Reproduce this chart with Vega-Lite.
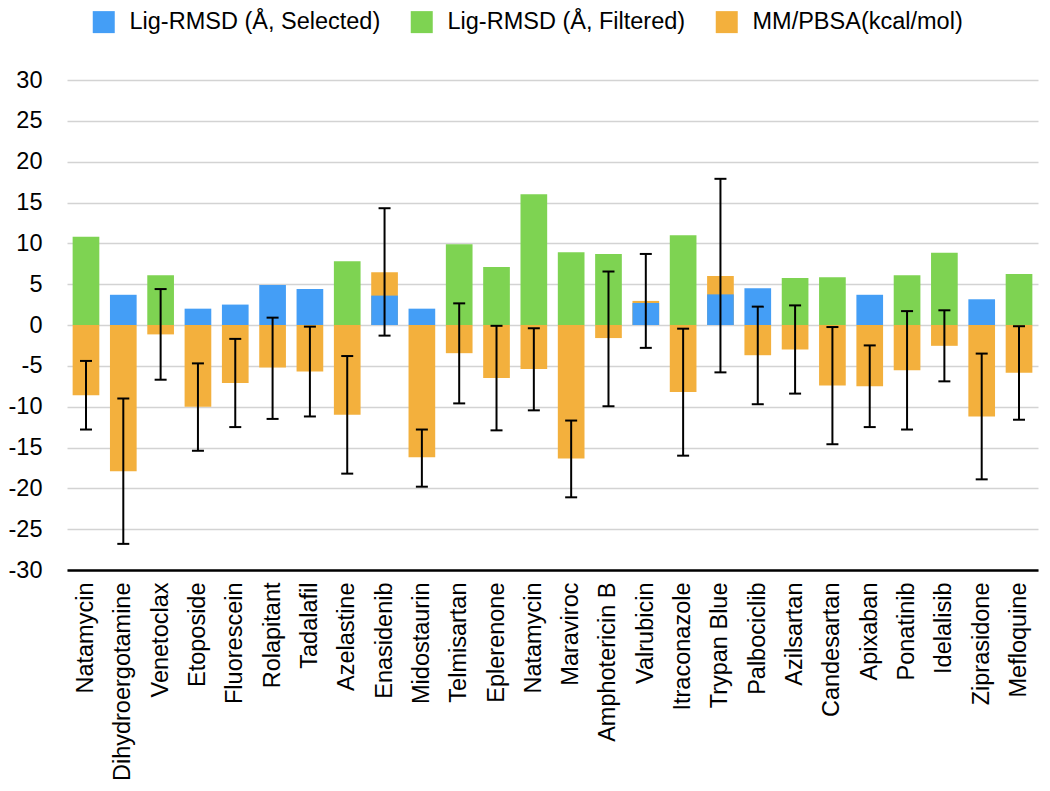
{
  "$schema": "https://vega.github.io/schema/vega-lite/v6.json",
  "width": 971,
  "height": 490,
  "autosize": {"type": "none"},
  "padding": {"left": 67, "top": 80, "right": 12, "bottom": 221},
  "config": {
    "font": "Liberation Sans",
    "view": {"stroke": null},
    "axis": {"labelColor": "#000000", "labelFont": "Liberation Sans"},
    "legend": {"labelFont": "Liberation Sans", "labelColor": "#000000"}
  },
  "datasets": {
    "bars": [
      {"drug": "Natamycin", "series": "MM/PBSA(kcal/mol)", "value": -8.6},
      {"drug": "Dihydroergotamine", "series": "MM/PBSA(kcal/mol)", "value": -17.9},
      {"drug": "Venetoclax", "series": "MM/PBSA(kcal/mol)", "value": -1.15},
      {"drug": "Etoposide", "series": "MM/PBSA(kcal/mol)", "value": -10.0},
      {"drug": "Fluorescein", "series": "MM/PBSA(kcal/mol)", "value": -7.1},
      {"drug": "Rolapitant", "series": "MM/PBSA(kcal/mol)", "value": -5.2},
      {"drug": "Tadalafil", "series": "MM/PBSA(kcal/mol)", "value": -5.7},
      {"drug": "Azelastine", "series": "MM/PBSA(kcal/mol)", "value": -11.0},
      {"drug": "Enasidenib", "series": "MM/PBSA(kcal/mol)", "value": 6.45},
      {"drug": "Midostaurin", "series": "MM/PBSA(kcal/mol)", "value": -16.2},
      {"drug": "Telmisartan", "series": "MM/PBSA(kcal/mol)", "value": -3.45},
      {"drug": "Eplerenone", "series": "MM/PBSA(kcal/mol)", "value": -6.5},
      {"drug": "Natamycin\u200b", "series": "MM/PBSA(kcal/mol)", "value": -5.4},
      {"drug": "Maraviroc", "series": "MM/PBSA(kcal/mol)", "value": -16.35},
      {"drug": "Amphotericin B", "series": "MM/PBSA(kcal/mol)", "value": -1.6},
      {"drug": "Valrubicin", "series": "MM/PBSA(kcal/mol)", "value": 2.95},
      {"drug": "Itraconazole", "series": "MM/PBSA(kcal/mol)", "value": -8.2},
      {"drug": "Trypan Blue", "series": "MM/PBSA(kcal/mol)", "value": 6.0},
      {"drug": "Palbociclib", "series": "MM/PBSA(kcal/mol)", "value": -3.7},
      {"drug": "Azilsartan", "series": "MM/PBSA(kcal/mol)", "value": -3.0},
      {"drug": "Candesartan", "series": "MM/PBSA(kcal/mol)", "value": -7.4},
      {"drug": "Apixaban", "series": "MM/PBSA(kcal/mol)", "value": -7.5},
      {"drug": "Ponatinib", "series": "MM/PBSA(kcal/mol)", "value": -5.55},
      {"drug": "Idelalisib", "series": "MM/PBSA(kcal/mol)", "value": -2.55},
      {"drug": "Ziprasidone", "series": "MM/PBSA(kcal/mol)", "value": -11.2},
      {"drug": "Mefloquine", "series": "MM/PBSA(kcal/mol)", "value": -5.85},
      {"drug": "Natamycin", "series": "Lig-RMSD (Å, Filtered)", "value": 10.8},
      {"drug": "Dihydroergotamine", "series": "Lig-RMSD (Å, Selected)", "value": 3.7},
      {"drug": "Venetoclax", "series": "Lig-RMSD (Å, Filtered)", "value": 6.1},
      {"drug": "Etoposide", "series": "Lig-RMSD (Å, Selected)", "value": 2.0},
      {"drug": "Fluorescein", "series": "Lig-RMSD (Å, Selected)", "value": 2.5},
      {"drug": "Rolapitant", "series": "Lig-RMSD (Å, Selected)", "value": 4.9},
      {"drug": "Tadalafil", "series": "Lig-RMSD (Å, Selected)", "value": 4.4},
      {"drug": "Azelastine", "series": "Lig-RMSD (Å, Filtered)", "value": 7.8},
      {"drug": "Enasidenib", "series": "Lig-RMSD (Å, Selected)", "value": 3.6},
      {"drug": "Midostaurin", "series": "Lig-RMSD (Å, Selected)", "value": 2.0},
      {"drug": "Telmisartan", "series": "Lig-RMSD (Å, Filtered)", "value": 9.9},
      {"drug": "Eplerenone", "series": "Lig-RMSD (Å, Filtered)", "value": 7.1},
      {"drug": "Natamycin\u200b", "series": "Lig-RMSD (Å, Filtered)", "value": 16.0},
      {"drug": "Maraviroc", "series": "Lig-RMSD (Å, Filtered)", "value": 8.9},
      {"drug": "Amphotericin B", "series": "Lig-RMSD (Å, Filtered)", "value": 8.7},
      {"drug": "Valrubicin", "series": "Lig-RMSD (Å, Selected)", "value": 2.7},
      {"drug": "Itraconazole", "series": "Lig-RMSD (Å, Filtered)", "value": 11.0},
      {"drug": "Trypan Blue", "series": "Lig-RMSD (Å, Selected)", "value": 3.75},
      {"drug": "Palbociclib", "series": "Lig-RMSD (Å, Selected)", "value": 4.5},
      {"drug": "Azilsartan", "series": "Lig-RMSD (Å, Filtered)", "value": 5.75},
      {"drug": "Candesartan", "series": "Lig-RMSD (Å, Filtered)", "value": 5.85},
      {"drug": "Apixaban", "series": "Lig-RMSD (Å, Selected)", "value": 3.7},
      {"drug": "Ponatinib", "series": "Lig-RMSD (Å, Filtered)", "value": 6.1},
      {"drug": "Idelalisib", "series": "Lig-RMSD (Å, Filtered)", "value": 8.85},
      {"drug": "Ziprasidone", "series": "Lig-RMSD (Å, Selected)", "value": 3.15},
      {"drug": "Mefloquine", "series": "Lig-RMSD (Å, Filtered)", "value": 6.25}
    ],
    "err": [
      {"drug": "Natamycin", "lo": -12.8, "hi": -4.4},
      {"drug": "Dihydroergotamine", "lo": -26.8, "hi": -9.0},
      {"drug": "Venetoclax", "lo": -6.7, "hi": 4.4},
      {"drug": "Etoposide", "lo": -15.4, "hi": -4.7},
      {"drug": "Fluorescein", "lo": -12.5, "hi": -1.7},
      {"drug": "Rolapitant", "lo": -11.5, "hi": 0.9},
      {"drug": "Tadalafil", "lo": -11.2, "hi": -0.2},
      {"drug": "Azelastine", "lo": -18.2, "hi": -3.8},
      {"drug": "Enasidenib", "lo": -1.3, "hi": 14.3},
      {"drug": "Midostaurin", "lo": -19.8, "hi": -12.8},
      {"drug": "Telmisartan", "lo": -9.6, "hi": 2.65},
      {"drug": "Eplerenone", "lo": -12.9, "hi": -0.1},
      {"drug": "Natamycin\u200b", "lo": -10.45, "hi": -0.4},
      {"drug": "Maraviroc", "lo": -21.1, "hi": -11.7},
      {"drug": "Amphotericin B", "lo": -9.95, "hi": 6.55},
      {"drug": "Valrubicin", "lo": -2.8, "hi": 8.7},
      {"drug": "Itraconazole", "lo": -16.0, "hi": -0.45},
      {"drug": "Trypan Blue", "lo": -5.8, "hi": 17.9},
      {"drug": "Palbociclib", "lo": -9.7, "hi": 2.25},
      {"drug": "Azilsartan", "lo": -8.4, "hi": 2.4},
      {"drug": "Candesartan", "lo": -14.6, "hi": -0.25},
      {"drug": "Apixaban", "lo": -12.5, "hi": -2.5},
      {"drug": "Ponatinib", "lo": -12.8, "hi": 1.7},
      {"drug": "Idelalisib", "lo": -6.9, "hi": 1.8},
      {"drug": "Ziprasidone", "lo": -18.9, "hi": -3.5},
      {"drug": "Mefloquine", "lo": -11.6, "hi": -0.15}
    ]
  },
  "encoding": {
    "x": {
      "field": "drug",
      "type": "nominal",
      "scale": {
        "domain": ["Natamycin", "Dihydroergotamine", "Venetoclax", "Etoposide", "Fluorescein", "Rolapitant", "Tadalafil", "Azelastine", "Enasidenib", "Midostaurin", "Telmisartan", "Eplerenone", "Natamycin\u200b", "Maraviroc", "Amphotericin B", "Valrubicin", "Itraconazole", "Trypan Blue", "Palbociclib", "Azilsartan", "Candesartan", "Apixaban", "Ponatinib", "Idelalisib", "Ziprasidone", "Mefloquine"],
        "paddingInner": 0.285,
        "paddingOuter": 0.151
      },
      "axis": {
        "title": null,
        "labelAngle": -90,
        "labelFontSize": 23.5,
        "labelPadding": 12,
        "ticks": false,
        "domainColor": "#000000",
        "domainWidth": 2.5,
        "labelLimit": 300
      }
    }
  },
  "layer": [
    {
      "data": {"name": "bars"},
      "mark": {"type": "bar"},
      "encoding": {
        "y": {
          "field": "value",
          "type": "quantitative",
          "stack": null,
          "scale": {"domain": [-30, 30], "nice": false},
          "axis": {
            "title": null,
            "values": [-30, -25, -20, -15, -10, -5, 0, 5, 10, 15, 20, 25, 30],
            "labelExpr": "toString(datum.value)",
            "labelFontSize": 23.5,
            "labelPadding": 25,
            "ticks": false,
            "domain": false,
            "gridColor": "#d3d3d3",
            "gridWidth": 1.5
          }
        },
        "color": {
          "field": "series",
          "type": "nominal",
          "scale": {
            "domain": ["Lig-RMSD (Å, Selected)", "Lig-RMSD (Å, Filtered)", "MM/PBSA(kcal/mol)"],
            "range": ["#449EF6", "#7ED352", "#F3B03D"]
          },
          "legend": {
            "orient": "none",
            "legendX": 25,
            "legendY": -70,
            "direction": "horizontal",
            "title": null,
            "symbolType": "square",
            "symbolSize": 484,
            "symbolStrokeWidth": 0,
            "symbolOpacity": 1,
            "labelFontSize": 23.5,
            "labelOffset": 14,
            "columnPadding": 29,
            "labelLimit": 400
          }
        }
      }
    },
    {
      "data": {"name": "err"},
      "mark": {"type": "rule", "color": "#000000", "strokeWidth": 2},
      "encoding": {
        "y": {"field": "lo", "type": "quantitative"},
        "y2": {"field": "hi"}
      }
    },
    {
      "data": {"name": "err"},
      "mark": {"type": "tick", "color": "#000000", "thickness": 2, "size": 12, "opacity": 1},
      "encoding": {
        "y": {"field": "lo", "type": "quantitative"}
      }
    },
    {
      "data": {"name": "err"},
      "mark": {"type": "tick", "color": "#000000", "thickness": 2, "size": 12, "opacity": 1},
      "encoding": {
        "y": {"field": "hi", "type": "quantitative"}
      }
    }
  ]
}
